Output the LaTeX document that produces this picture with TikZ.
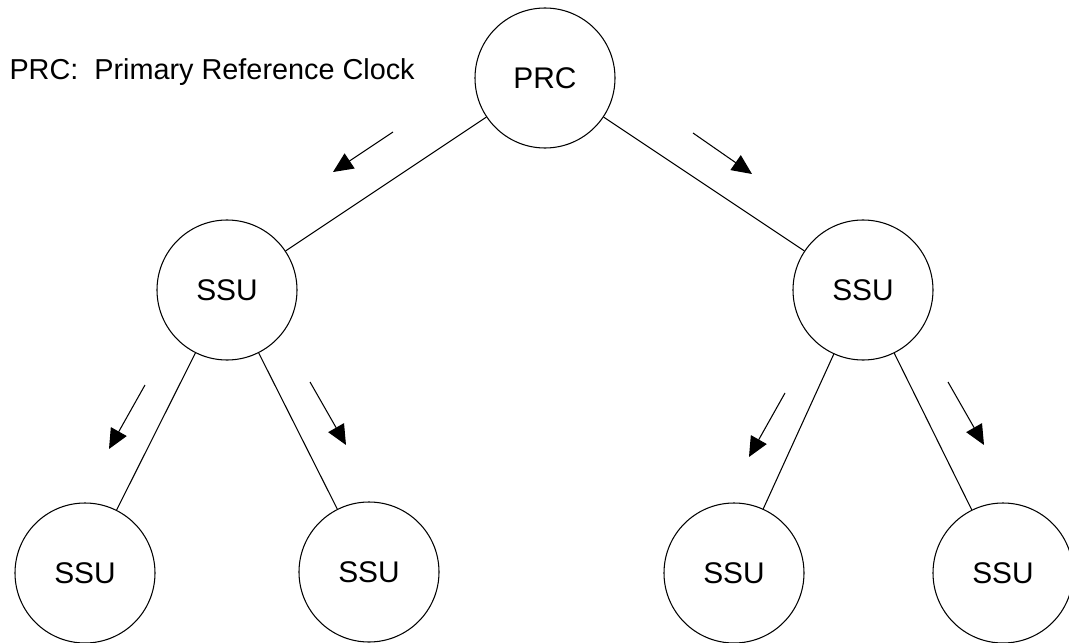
\documentclass[tikz,border=0pt]{standalone}
\usepackage{fontspec}
\setmainfont{Liberation Sans}
\usetikzlibrary{arrows.meta}

\tikzset{
    unit/.style={draw, circle, minimum size=28mm, inner sep=0pt, font=\fontsize{17}{20}\selectfont},
    flow/.style={-{Triangle[length=4mm, width=3.6mm]}},
}

\begin{document}
\begin{tikzpicture}[x=0.2mm, y=-0.2mm, line width=0.6pt]
            \useasboundingbox (0,0) rectangle (1069,643);

            \node[anchor=west, inner sep=0pt, font=\fontsize{16.4}{19}\selectfont] (key) at (9,72) {PRC:\ \ Primary Reference Clock};

            \node[unit] (prc) at (545,78) {PRC};
            \node[unit] (ssul) at (227,290) {SSU};
            \node[unit] (ssur) at (863,290) {SSU};
            \node[unit] (ssu1) at (85,573) {SSU};
            \node[unit] (ssu2) at (369,572) {SSU};
            \node[unit] (ssu3) at (734,573) {SSU};
            \node[unit] (ssu4) at (1003,573) {SSU};

            \draw (prc) -- (ssul);
            \draw (prc) -- (ssur);
            \draw (ssul) -- (ssu1);
            \draw (ssul) -- (ssu2);
            \draw (ssur) -- (ssu3);
            \draw (ssur) -- (ssu4);

            % direction of timing flow
            \coordinate (f1a) at (393,132);
            \coordinate (f1b) at (333,172);
            \coordinate (f2a) at (693,133);
            \coordinate (f2b) at (752,174);
            \coordinate (f3a) at (145,385);
            \coordinate (f3b) at (109,449);
            \coordinate (f4a) at (310,382);
            \coordinate (f4b) at (346,445);
            \coordinate (f5a) at (785,393);
            \coordinate (f5b) at (749,457);
            \coordinate (f6a) at (948,382);
            \coordinate (f6b) at (984,445);

            \draw[flow] (f1a) -- (f1b);
            \draw[flow] (f2a) -- (f2b);
            \draw[flow] (f3a) -- (f3b);
            \draw[flow] (f4a) -- (f4b);
            \draw[flow] (f5a) -- (f5b);
            \draw[flow] (f6a) -- (f6b);
\end{tikzpicture}
\end{document}
